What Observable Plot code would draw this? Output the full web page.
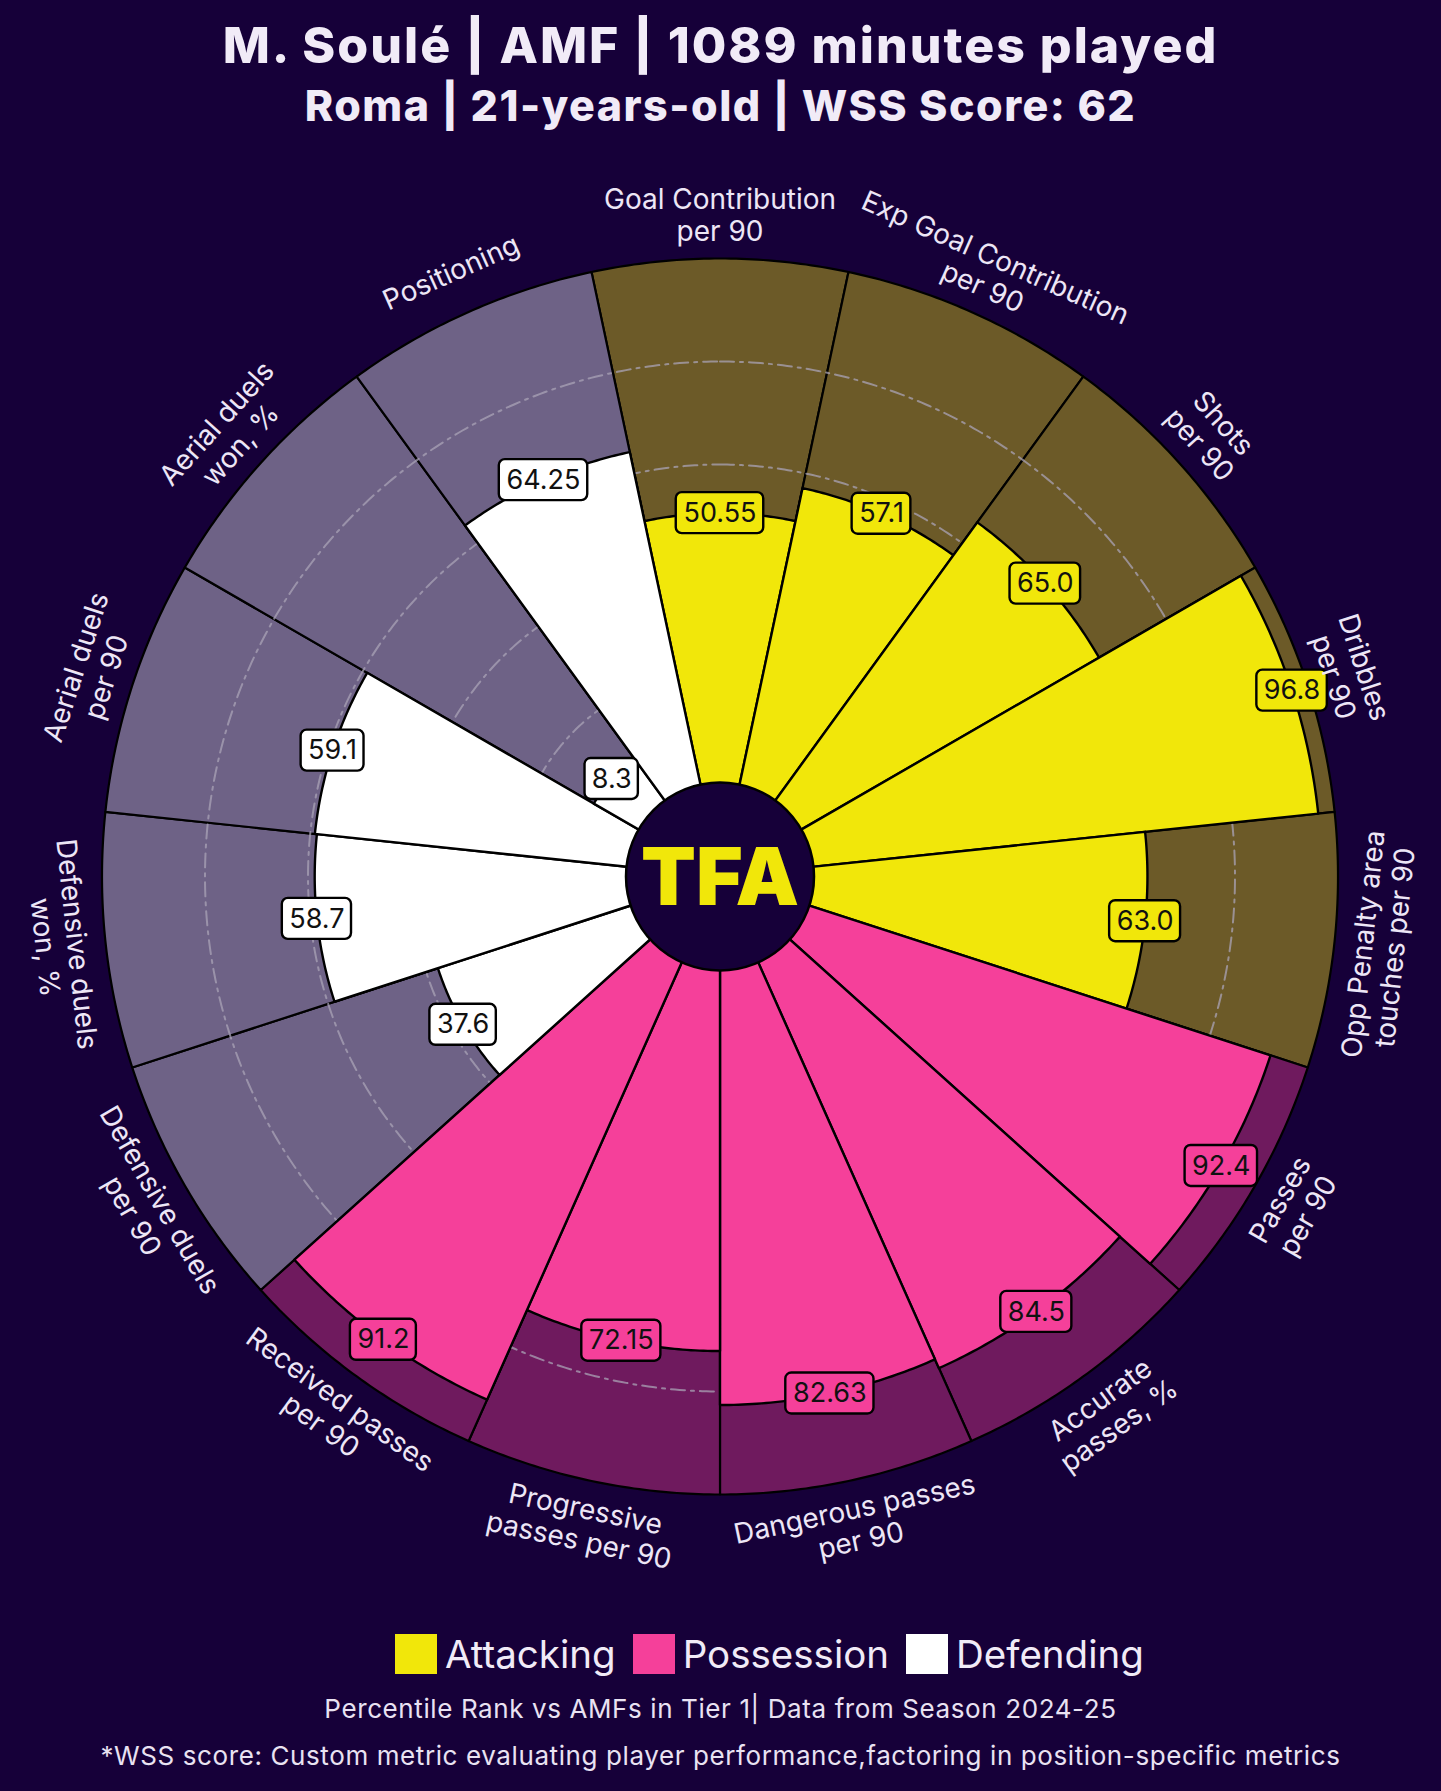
<!DOCTYPE html>
<html>
<head>
<meta charset="utf-8">
<script src="https://cdn.jsdelivr.net/npm/d3@7"></script>
<script src="https://cdn.jsdelivr.net/npm/@observablehq/plot@0.6"></script>
<style>
  html, body { margin: 0; padding: 0; }
  body { background: #160039; width: 1441px; height: 1791px; position: relative; overflow: hidden; font-family: Inter, "Noto Sans", sans-serif; color: #f1ebf7; }
  .t { position: absolute; left: 0; width: 1441px; text-align: center; line-height: 1; white-space: nowrap; }
  #title { top: 20px; font-size: 50px; font-weight: 800; letter-spacing: 2px; }
  #subtitle { top: 84px; font-size: 43px; font-weight: 800; letter-spacing: 1.5px; }
  #chart { position: absolute; left: 0; top: 140px; }
  #legend { position: absolute; top: 1634px; left: 395px; display: flex; align-items: center; font-size: 38.5px; line-height: 1; }
  #legend .sw { width: 42px; height: 40px; margin-right: 8px; }
  #legend .lab { margin-right: 17px; }
  #foot1 { top: 1696px; font-size: 26px; color: #e9e2f2; letter-spacing: 0.6px; }
  #foot2 { top: 1743px; font-size: 26px; color: #e9e2f2; letter-spacing: 0.6px; }
  svg text.lbl { letter-spacing: 1.2px; }
  svg text.val { letter-spacing: 0.5px; }
</style>
</head>
<body>
<div class="t" id="title">M. Soulé | AMF | 1089 minutes played</div>
<div class="t" id="subtitle">Roma | 21-years-old | WSS Score: 62</div>
<div id="chart"></div>
<div id="legend"></div>
<div class="t" id="foot1">Percentile Rank vs AMFs in Tier 1| Data from Season 2024-25</div>
<div class="t" id="foot2">*WSS score: Custom metric evaluating player performance,factoring in position-specific metrics</div>
<script>
// ---- data ----
const params = [
  "Goal Contribution\nper 90",
  "Exp Goal Contribution\nper 90",
  "Shots\nper 90",
  "Dribbles\nper 90",
  "Opp Penalty area\ntouches per 90",
  "Passes\nper 90",
  "Accurate\npasses, %",
  "Dangerous passes\nper 90",
  "Progressive\npasses per 90",
  "Received passes\nper 90",
  "Defensive duels\nper 90",
  "Defensive duels\nwon, %",
  "Aerial duels\nper 90",
  "Aerial duels\nwon, %",
  "Positioning"
];
const values = [50.55, 57.1, 65.0, 96.8, 63.0, 92.4, 84.5, 82.63, 72.15, 91.2, 37.6, 58.7, 59.1, 8.3, 64.25];
const valueLabels = ["50.55", "57.1", "65.0", "96.8", "63.0", "92.4", "84.5", "82.63", "72.15", "91.2", "37.6", "58.7", "59.1", "8.3", "64.25"];
const groups = ["Attacking", "Attacking", "Attacking", "Attacking", "Attacking",
                "Possession", "Possession", "Possession", "Possession", "Possession",
                "Defending", "Defending", "Defending", "Defending", "Defending"];
const groupNames = ["Attacking", "Possession", "Defending"];
const barColors = ["#f1e70a", "#f5409a", "#ffffff"];
const bgColors = ["#6c5a28", "#6f1a5e", "#6e6286"];
const gridValues = [20, 40, 60, 80];

// ---- geometry helpers ----
const W = 1441, H = 1460;
const CX = 719.5, CY = 736;
const R = 618;              // outer radius (value 100)
const LABEL_R = 662;
const rOf = v => R * (v + 20) / 120;
const n = params.length;
const step = 360 / n;
const rad = d => d * Math.PI / 180;
const P = (r, a) => ({x: r * Math.sin(rad(a)), y: -r * Math.cos(rad(a))});

function wedge(id, i, r, color) {
  const c = i * step;
  const pts = [{id, color, ...P(0, c)}];
  for (let a = c - step / 2; a <= c + step / 2 + 1e-9; a += 0.5) pts.push({id, color, ...P(r, a)});
  pts.push({id, color, ...P(0, c)});
  return pts;
}
const gi = g => groupNames.indexOf(g);

const bgPts = params.flatMap((p, i) => wedge("bg" + i, i, R, bgColors[gi(groups[i])]));
const barPts = params.flatMap((p, i) => wedge("bar" + i, i, rOf(values[i]), barColors[gi(groups[i])]));
const gridPts = gridValues.flatMap(g => d3.range(0, 360.5, 0.5).map(a => ({id: "g" + g, ...P(rOf(g), a)})));

const ctx = document.createElement("canvas").getContext("2d");
ctx.font = "27px Inter";
const boxes = params.map((p, i) => {
  const {x, y} = P(rOf(values[i]), i * step);
  const w = ctx.measureText(valueLabels[i]).width + valueLabels[i].length * 0.5 + 12;
  const h = 41;
  return {x, y, x1: x - w / 2, x2: x + w / 2, y1: y - h / 2, y2: y + h / 2,
          text: valueLabels[i], color: barColors[gi(groups[i])]};
});

const labels = params.map((p, i) => {
  const a = i * step;
  let rot = a;
  if (a > 90 && a < 270) rot = a - 180;
  else if (a >= 270) rot = a - 360;
  return {...P(LABEL_R, a), text: p, rot};
});

const chart = Plot.plot({
  width: W, height: H,
  margin: 0,
  style: {background: "transparent", overflow: "visible"},
  x: {domain: [-CX, W - CX], range: [0, W], axis: null},
  y: {domain: [-CY, H - CY], range: [0, H], axis: null},
  color: {type: "identity"},
  marks: [
    Plot.line(bgPts, {x: "x", y: "y", z: "id", fill: "color", stroke: "#000", strokeWidth: 2.2, curve: "linear"}),
    Plot.line(gridPts, {x: "x", y: "y", z: "id", stroke: "#aaa3b6", strokeWidth: 2, strokeOpacity: 0.75, strokeDasharray: "14,6,3,6"}),
    Plot.line(barPts, {x: "x", y: "y", z: "id", fill: "color", stroke: "#000", strokeWidth: 2.4, curve: "linear"}),
    Plot.dot([{x: 0, y: 0}], {x: "x", y: "y", r: 94, fill: "#160039", stroke: "#000", strokeWidth: 2.5}),
    Plot.text([{x: 0, y: 0, t: "TFA"}], {x: "x", y: "y", text: "t", fontSize: 80, fontWeight: 900, fill: "#f1e70a", fontFamily: "Inter", dy: 3}),
    Plot.rect(boxes, {x1: "x1", x2: "x2", y1: "y1", y2: "y2", fill: "color", stroke: "#000", strokeWidth: 2.4, rx: 6}),
    Plot.text(boxes, {x: "x", y: "y", text: "text", fontSize: 27, fill: "#111", fontFamily: "Inter", className: "val"}),
    Plot.text(labels, {x: "x", y: "y", text: "text", rotate: "rot", fontSize: 28, lineHeight: 1.14, fill: "#ede6f6", fontFamily: "Inter", className: "lbl"})
  ]
});
document.getElementById("chart").appendChild(chart);

// legend
const leg = document.getElementById("legend");
groupNames.forEach((g, i) => {
  const sw = document.createElement("div"); sw.className = "sw"; sw.style.background = barColors[i];
  const lab = document.createElement("div"); lab.className = "lab"; lab.textContent = g;
  leg.appendChild(sw); leg.appendChild(lab);
});
</script>
</body>
</html>
